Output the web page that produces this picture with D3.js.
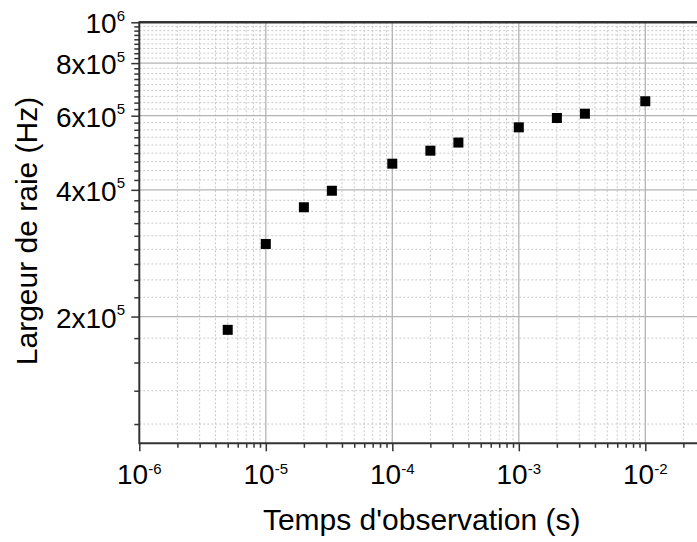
<!DOCTYPE html>
<html><head><meta charset="utf-8">
<script src="https://cdn.jsdelivr.net/npm/d3@7"></script>
<style>
body{margin:0;background:#fff;}
svg{display:block;font-family:"Liberation Sans",Arial,sans-serif;}
</style></head>
<body><svg id="chart" width="697" height="542"></svg>
<script>
// ---- data ----
const times  = [5e-6, 1e-5, 2e-5, 3.33e-5, 1e-4, 2e-4, 3.33e-4, 1e-3, 2e-3, 3.33e-3, 1e-2];
const widths = [1.86e5, 2.975e5, 3.636e5, 3.98e5, 4.615e5, 4.955e5, 5.18e5, 5.63e5, 5.925e5, 6.066e5, 6.493e5];
const xTickValues = [1e-6, 1e-5, 1e-4, 1e-3, 1e-2];
const xTickExp    = ["-6", "-5", "-4", "-3", "-2"];
const yTickValues = [2e5, 4e5, 6e5, 8e5, 1e6];
const yTickMant   = ["2x10", "4x10", "6x10", "8x10", "10"];
const yTickExp    = ["5", "5", "5", "5", "6"];
const xLabel = "Temps d'observation (s)";
const yLabel = "Largeur de raie (Hz)";

const svg = d3.select("#chart");
const pLeft = 139.3, pTop = 22.3, pBottom = 443.3, decade = 126.5;
const x = d3.scaleLog().domain([1e-6, Math.pow(10, -1.5)]).range([pLeft, pLeft + decade * 4.5]);
const y = d3.scaleLog().domain([1e5, 1e6]).range([pBottom, pTop]);

// minor tick values
const xMinor = [];
for (let e = -6; e <= -2; e++) for (let m = 2; m <= 9; m++) xMinor.push(m * Math.pow(10, e));
const yMinor = [];
for (let k = 1; k < 45; k++) { const v = k * 2e5 / 9; if (v > 1e5 && v < 1e6 && k % 9 !== 0) yMinor.push(v); }

const W = 697;
const g = svg.append("g");
// minor grid
g.selectAll("line.xmg").data(xMinor).join("line")
  .attr("x1", d => x(d)).attr("x2", d => x(d)).attr("y1", pTop).attr("y2", pBottom)
  .attr("stroke", "#c8c8c8").attr("stroke-width", 1).attr("stroke-dasharray", "2,2");
g.selectAll("line.ymg").data(yMinor).join("line")
  .attr("x1", pLeft).attr("x2", W).attr("y1", d => y(d)).attr("y2", d => y(d))
  .attr("stroke", "#c8c8c8").attr("stroke-width", 1).attr("stroke-dasharray", "2,2");
// major grid
g.selectAll("line.xMg").data(xTickValues.slice(1)).join("line")
  .attr("x1", d => x(d)).attr("x2", d => x(d)).attr("y1", pTop).attr("y2", pBottom)
  .attr("stroke", "#b4b4b4").attr("stroke-width", 1.3);
g.selectAll("line.yMg").data(yTickValues.slice(0, 4)).join("line")
  .attr("x1", pLeft).attr("x2", W).attr("y1", d => y(d)).attr("y2", d => y(d))
  .attr("stroke", "#b4b4b4").attr("stroke-width", 1.3);

// axes
const axCol = "#333";
const xAxis = svg.append("g").attr("transform", `translate(0,${pBottom})`)
  .call(d3.axisBottom(x).tickValues(xTickValues).tickFormat("").tickSize(8).tickSizeOuter(0));
const xAxisMinor = svg.append("g").attr("transform", `translate(0,${pBottom})`)
  .call(d3.axisBottom(x).tickValues(xMinor).tickFormat("").tickSize(4.5).tickSizeOuter(0));
const yAxis = svg.append("g").attr("transform", `translate(${pLeft},0)`)
  .call(d3.axisLeft(y).tickValues(yTickValues).tickFormat("").tickSize(8).tickSizeOuter(0));
const yAxisMinor = svg.append("g").attr("transform", `translate(${pLeft},0)`)
  .call(d3.axisLeft(y).tickValues(yMinor).tickFormat("").tickSize(5).tickSizeOuter(0));
[xAxis, xAxisMinor, yAxis, yAxisMinor].forEach(a => {
  a.selectAll("line").attr("stroke", axCol).attr("stroke-width", 1.5);
  a.select(".domain").remove();
});
// axis lines
svg.append("line").attr("x1", pLeft).attr("x2", W).attr("y1", pBottom).attr("y2", pBottom).attr("stroke", axCol).attr("stroke-width", 2);
svg.append("line").attr("x1", pLeft).attr("x2", W).attr("y1", pTop).attr("y2", pTop).attr("stroke", axCol).attr("stroke-width", 2.5);
svg.append("line").attr("x1", pLeft).attr("x2", pLeft).attr("y1", pTop - 1).attr("y2", pBottom + 1).attr("stroke", axCol).attr("stroke-width", 2);

// tick labels
const xl = svg.append("g").selectAll("text").data(xTickValues).join("text")
  .attr("x", d => x(d)).attr("y", 484).attr("text-anchor", "middle")
  .attr("font-size", 28).attr("fill", "#000");
xl.append("tspan").text("10");
xl.append("tspan").attr("font-size", 15).attr("dy", -10).text((d, i) => xTickExp[i]);

const yl = svg.append("g").selectAll("text").data(yTickValues).join("text")
  .attr("x", 125).attr("y", d => y(d) + 11).attr("text-anchor", "end")
  .attr("font-size", 28).attr("fill", "#000");
yl.append("tspan").text((d, i) => yTickMant[i]);
yl.append("tspan").attr("font-size", 15).attr("dy", -12.5).text((d, i) => yTickExp[i]);

// points
svg.append("g").selectAll("rect").data(times.map((t, i) => [t, widths[i]])).join("rect")
  .attr("x", d => x(d[0]) - 5).attr("y", d => y(d[1]) - 5)
  .attr("width", 10).attr("height", 10).attr("fill", "#000");

// axis titles
svg.append("text").attr("x", 421.7).attr("y", 530).attr("text-anchor", "middle")
  .attr("font-size", 30).attr("fill", "#000").text(xLabel);
svg.append("text").attr("transform", "translate(37,231) rotate(-90)").attr("text-anchor", "middle")
  .attr("font-size", 30).attr("fill", "#000").text(yLabel);
</script></body></html>
